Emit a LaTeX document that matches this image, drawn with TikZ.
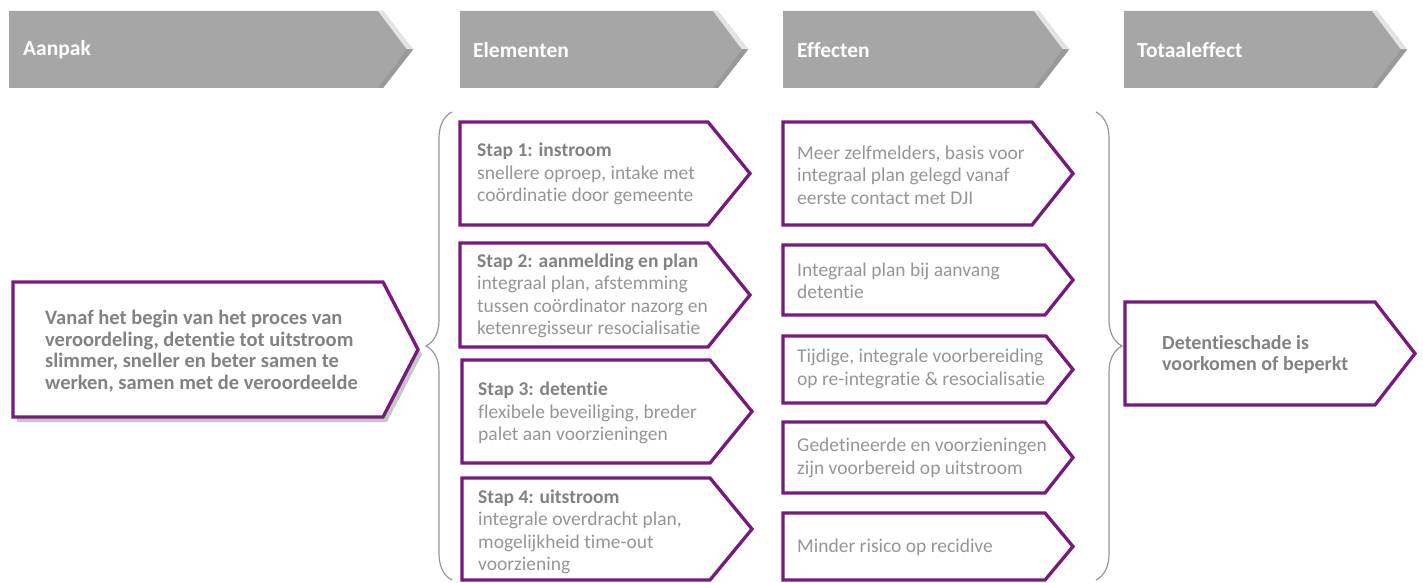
\documentclass[tikz,border=0pt]{standalone}
\usepackage{fontspec}
\setmainfont{Carlito}[Ligatures=NoCommon]
\usetikzlibrary{decorations.pathreplacing}
\definecolor{pur}{RGB}{118,26,126}
\definecolor{hdr}{RGB}{166,166,166}
\definecolor{txtl}{RGB}{150,150,150}
\definecolor{txtb}{RGB}{130,130,130}
\definecolor{brc}{RGB}{150,150,150}
\newcommand\arrowshape[6]{%
  \path[#1] (#2,#3) -- (#5,#3) -- (#6,{(#3+#4)/2}) -- (#5,#4) -- (#2,#4) -- cycle;}
\newcommand\bevel[4]{% #1 top, #2 bottom, #3 body right, #4 tip
  \fill[hdr!30!white] (#3-5,#1) -- (#3,#1) -- (#4,{(#1+#2)/2}) -- (#4-6,{(#1+#2)/2}) -- cycle;
  \fill[hdr!92!black] (#4-6,{(#1+#2)/2}) -- (#4,{(#1+#2)/2}) -- (#3,#2) -- (#3-5,#2) -- cycle;}
\tikzset{
  hdrbox/.style={fill=hdr},
  purbox/.style={draw=pur, line width=3.3pt, fill=white, line join=miter},
  shadowbox/.style={fill=black!22},
  hdrtext/.style={anchor=west, inner sep=0pt, text=white, font=\fontsize{21.5}{24}\selectfont\bfseries},
  bodytext/.style={anchor=west, inner sep=0pt, align=left, text=txtl, font=\fontsize{19.5}{22.5}\selectfont},
  boldtext/.style={anchor=west, inner sep=0pt, align=left, text=txtb, font=\fontsize{20}{21}\selectfont\bfseries},
  bracestyle/.style={draw=brc, line width=1.2pt, decorate, decoration={brace, amplitude=26pt}}
}
\begin{document}
\begin{tikzpicture}[x=1pt, y=-1pt]
\useasboundingbox (0,0) rectangle (1423,583);
% headers
\arrowshape{hdrbox}{9}{11}{88}{383}{413}
\bevel{11}{88}{383}{413}
\node[hdrtext] (h1) at (23,50) {Aanpak};
\arrowshape{hdrbox}{460}{11}{88}{718}{748}
\bevel{11}{88}{718}{748}
\node[hdrtext] (h2) at (473,50) {Elementen};
\arrowshape{hdrbox}{783}{11}{88}{1039}{1069}
\bevel{11}{88}{1039}{1069}
\node[hdrtext] (h3) at (797,50) {Effecten};
\arrowshape{hdrbox}{1124}{11}{88}{1377}{1407}
\bevel{11}{88}{1377}{1407}
\node[hdrtext] (h4) at (1137,50) {Totaaleffect};
% left box
\arrowshape{shadowbox}{17}{287}{422}{387}{422}
\arrowshape{purbox}{13}{282}{417}{383}{418}
\node[boldtext, font=\fontsize{20.5}{21.5}\selectfont\bfseries] (aanpak) at (45,351) {Vanaf het begin van het proces van\\veroordeling, detentie tot uitstroom\\slimmer, sneller en beter samen te\\werken, samen met de veroordeelde};
% braces
\coordinate (lbB) at (452,580);
\coordinate (lbT) at (452,112);
\draw[bracestyle] (lbB) -- (lbT);
\coordinate (rbT) at (1096,112);
\coordinate (rbB) at (1096,580);
\draw[bracestyle] (rbT) -- (rbB);
% steps
\arrowshape{purbox}{460}{122}{225}{708}{750}
\node[bodytext] (s1) at (477,174) {{\color{txtb}\bfseries Stap 1: instroom}\\snellere oproep, intake met\\coördinatie door gemeente};
\arrowshape{purbox}{460}{243}{347}{708}{750}
\node[bodytext] (s2) at (477,296) {{\color{txtb}\bfseries Stap 2: aanmelding en plan}\\integraal plan, afstemming\\tussen coördinator nazorg en\\ketenregisseur resocialisatie};
\arrowshape{purbox}{462}{360}{463}{710}{752}
\node[bodytext] (s3) at (478,413) {{\color{txtb}\bfseries Stap 3: detentie}\\flexibele beveiliging, breder\\palet aan voorzieningen};
\arrowshape{purbox}{462}{478}{580}{710}{752}
\node[bodytext] (s4) at (478,532) {{\color{txtb}\bfseries Stap 4: uitstroom}\\integrale overdracht plan,\\mogelijkheid time-out\\voorziening};
% effects
\arrowshape{purbox}{783}{122}{225}{1032}{1073}
\node[bodytext] (e1) at (797,175) {Meer zelfmelders, basis voor\\integraal plan gelegd vanaf\\eerste contact met DJI};
\arrowshape{purbox}{783}{245}{315}{1045}{1073}
\node[bodytext] (e2) at (797,281) {Integraal plan bij aanvang\\detentie};
\arrowshape{purbox}{783}{336}{403}{1046}{1073}
\node[bodytext] (e3) at (797,369) {Tijdige, integrale voorbereiding\\op re-integratie \& resocialisatie};
\arrowshape{purbox}{783}{422}{493}{1045}{1073}
\node[bodytext] (e4) at (797,458) {Gedetineerde en voorzieningen\\zijn voorbereid op uitstroom};
\arrowshape{purbox}{783}{513}{580}{1045}{1073}
\node[bodytext] (e5) at (797,547) {Minder risico op recidive};
% total
\arrowshape{purbox}{1125}{302}{405}{1375}{1415}
\node[boldtext] (tot) at (1162,355) {Detentieschade is\\voorkomen of beperkt};
\end{tikzpicture}
\end{document}
